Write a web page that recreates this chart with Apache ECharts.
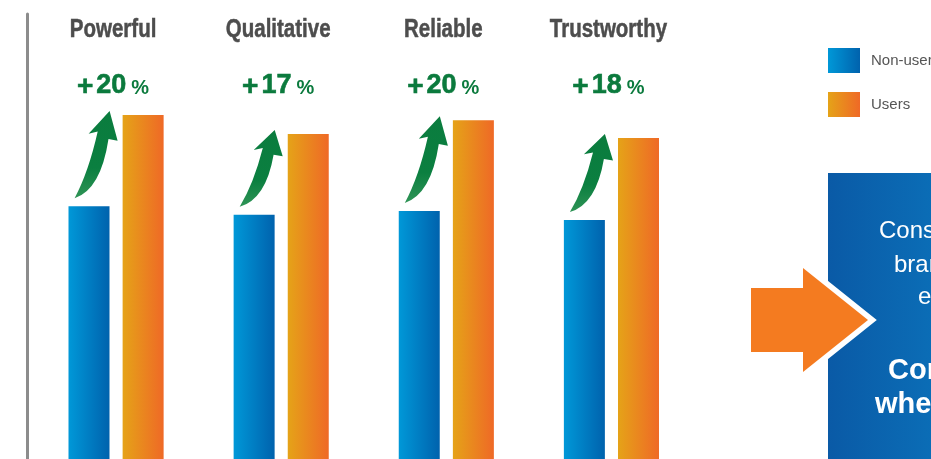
<!DOCTYPE html>
<html lang="en">

<head>
  <meta charset="UTF-8">
  <title>Non-users vs Users</title>
  <script src="https://cdn.jsdelivr.net/npm/echarts@6/dist/echarts.min.js"></script>
</head>

<body style="margin: 0;padding: 0;background:#fff;">
  <div id="main" style="width: 931px;height: 459px;"></div>
  <script>
    var categories = ['Powerful', 'Qualitative', 'Reliable', 'Trustworthy'];
    var nonUsers = [70.7, 69.4, 70.0, 68.6];
    var users = [84.6, 81.7, 83.8, 81.1];
    var uplift = [20, 17, 20, 18];

    var sans = '"Liberation Sans", Arial, sans-serif';
    var chartDom = document.getElementById('main');
    var myChart = echarts.init(chartDom);

    var blueFill = new echarts.graphic.LinearGradient(0, 0, 1, 0, [
      { offset: 0, color: '#0098d8' },
      { offset: 1, color: '#0062ad' }
    ]);
    var orangeFill = new echarts.graphic.LinearGradient(0, 0, 1, 0, [
      { offset: 0, color: '#e5a318' },
      { offset: 1, color: '#ef6926' }
    ]);

    // category name, uplift label and the curved green arrow for each group
    function renderGroup(params, api) {
      var idx = api.value(0);
      var pB = api.coord([idx, api.value(1)]);
      var pU = api.coord([idx, api.value(2)]);
      var cx = pB[0];
      var tx = cx - 47.5 + 6, ty = pB[1] - 8;
      var hx = cx + 6.5 - 13, hy = pU[1] - 4;
      var dx = hx - tx, dy = ty - hy;
      function p(u, v) { return (tx + u * dx).toFixed(1) + ' ' + (ty - v * dy).toFixed(1); }
      var d = 'M' + p(0, 0) +
        ' Q' + p(0.4, 0.3) + ' ' + p(0.66, 0.765) +
        ' L' + p(0.4, 0.74) +
        ' L' + p(1, 1) +
        ' L' + p(1.23, 0.66) +
        ' L' + p(0.97, 0.68) +
        ' Q' + p(0.75, 0.1) + ' ' + p(0, 0) + ' Z';
      var green = '#0b7a3d';
      return {
        type: 'group',
        children: [
          {
            type: 'path',
            shape: { pathData: d },
            style: {
              fill: new echarts.graphic.LinearGradient(0, 1, 0, 0, [
                { offset: 0, color: '#2f9456' },
                { offset: 0.35, color: '#0b7f40' },
                { offset: 1, color: '#0a7c3e' }
              ])
            }
          },
          {
            type: 'text',
            x: cx - 3,
            y: 30,
            scaleX: 0.82,
            style: {
              text: categories[idx],
              font: 'bold 25px ' + sans,
              fill: '#4d4d4d',
              stroke: '#4d4d4d',
              lineWidth: 0.5,
              align: 'center',
              verticalAlign: 'middle'
            }
          },
          {
            type: 'text',
            x: cx - 3,
            y: 86,
            style: {
              text: '{s|+}{n|' + uplift[idx] + '}{p|%}',
              align: 'center',
              verticalAlign: 'middle',
              rich: {
                s: { font: 'bold 28px ' + sans, fill: green, stroke: green, lineWidth: 0.6, padding: [3, 3, 0, 0] },
                n: { font: 'bold 27px ' + sans, fill: green, stroke: green, lineWidth: 0.6 },
                p: { font: 'bold 20px ' + sans, fill: green, padding: [4, 0, 0, 5] }
              }
            }
          }
        ]
      };
    }

    var option = {
      animation: false,
      grid: { left: 33.5, right: 237, top: 14, bottom: 0 },
      legend: {
        orient: 'vertical',
        left: 828,
        top: 48,
        padding: 0,
        itemWidth: 32,
        itemHeight: 25,
        itemGap: 19,
        icon: 'rect',
        data: ['Non-users', 'Users'],
        textStyle: {
          fontFamily: sans,
          fontSize: 15,
          color: '#555',
          padding: [0, 0, 0, 6]
        }
      },
      xAxis: {
        type: 'category',
        position: 'top',
        data: categories,
        axisLine: { show: false },
        axisTick: { show: false },
        axisLabel: { show: false }
      },
      yAxis: {
        type: 'value',
        min: 32.2,
        max: 100,
        offset: 6,
        axisLine: { show: true, lineStyle: { color: '#8c8c8c', width: 3 } },
        axisTick: { show: false },
        axisLabel: { show: false },
        splitLine: { show: false }
      },
      series: [
        {
          name: 'Non-users',
          type: 'bar',
          data: nonUsers,
          barWidth: 41,
          barGap: '32%',
          itemStyle: { color: blueFill }
        },
        {
          name: 'Users',
          type: 'bar',
          data: users,
          barWidth: 41,
          itemStyle: { color: orangeFill }
        },
        {
          type: 'custom',
          renderItem: renderGroup,
          encode: { x: 0, y: [1, 2] },
          data: categories.map(function (c, i) { return [i, nonUsers[i], users[i]]; }),
          clip: false,
          z: 5,
          silent: true
        }
      ],
      graphic: [
        {
          type: 'rect',
          shape: { x: 828, y: 173, width: 110, height: 300 },
          style: {
            fill: new echarts.graphic.LinearGradient(0, 0, 1, 0, [
              { offset: 0, color: '#0a5aa6' },
              { offset: 1, color: '#0b6eb7' }
            ])
          },
          z: 1
        },
        {
          type: 'polygon',
          shape: { points: [[751, 288], [803, 288], [803, 268], [868, 320], [803, 372], [803, 352], [751, 352]] },
          style: { fill: '#fff', stroke: '#fff', lineWidth: 11, lineJoin: 'miter', miterLimit: 10 },
          z: 2
        },
        {
          type: 'polygon',
          shape: { points: [[751, 288], [803, 288], [803, 268], [868, 320], [803, 372], [803, 352], [751, 352]] },
          style: { fill: '#f47b20' },
          z: 3
        },
        { type: 'text', x: 879, y: 231, z: 4, style: { text: 'Consumers', fill: '#fff', font: '24px ' + sans, verticalAlign: 'middle' } },
        { type: 'text', x: 894, y: 265, z: 4, style: { text: 'brand', fill: '#fff', font: '24px ' + sans, verticalAlign: 'middle' } },
        { type: 'text', x: 918, y: 297, z: 4, style: { text: 'experience', fill: '#fff', font: '24px ' + sans, verticalAlign: 'middle' } },
        { type: 'text', x: 888, y: 371, z: 4, style: { text: 'Consumers', fill: '#fff', font: 'bold 29px ' + sans, verticalAlign: 'middle' } },
        { type: 'text', x: 875, y: 405, z: 4, style: { text: 'whenever', fill: '#fff', font: 'bold 29px ' + sans, verticalAlign: 'middle' } }
      ]
    };

    option && myChart.setOption(option);
  </script>
</body>

</html>
